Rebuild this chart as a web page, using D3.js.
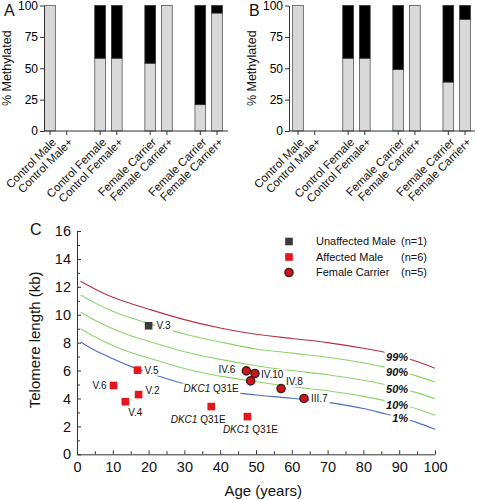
<!DOCTYPE html>
<html lang="en">
<head>
<meta charset="UTF-8">
<title>Methylation and telomere length</title>
<script src="https://d3js.org/d3.v7.min.js"></script>
<style>
    html, body { margin: 0; padding: 0; background: #fff; }
    svg { display: block; font-family: Arial, "Liberation Sans", sans-serif; }
</style>
</head>
<body>
<div id="chart"></div>
<script>
// panels A and B: "" marks the empty slot between groups
const categories = ["Control Male", "Control Male+", "", "Control Female", "Control Female+", "",
    "Female Carrier", "Female Carrier+", "", "Female Carrier", "Female Carrier+"];
const methylatedA = [100, 0, null, 58, 58, null, 54, 100, null, 21, 94];
const unmethylatedA = [0, 0, null, 42, 42, null, 46, 0, null, 79, 6];
const methylatedB = [100, 0, null, 58, 58, null, 49, 100, null, 39, 89];
const unmethylatedB = [0, 0, null, 42, 42, null, 51, 0, null, 61, 11];
const methylTicks = [0, 25, 50, 75, 100];

// panel C percentile curves (kb at each age)
const curveAges = [1, 5, 10, 15, 20, 30, 40, 50, 60, 70, 80, 85, 90, 95, 100];
const p99 = [12.4, 11.85, 11.25, 10.8, 10.4, 9.65, 9.05, 8.6, 8.3, 8.0, 7.6, 7.37, 7.05, 6.65, 6.17];
const p90 = [11.42, 10.85, 10.25, 9.78, 9.38, 8.62, 8.05, 7.55, 7.25, 6.95, 6.55, 6.3, 5.98, 5.6, 5.17];
const p50 = [10.18, 9.6, 9.0, 8.5, 8.1, 7.35, 6.8, 6.35, 6.0, 5.7, 5.3, 5.05, 4.75, 4.4, 3.98];
const p10 = [9.0, 8.42, 7.8, 7.3, 6.9, 6.15, 5.6, 5.2, 4.85, 4.55, 4.15, 3.9, 3.6, 3.25, 2.8];
const p1 = [8.05, 7.45, 6.85, 6.3, 5.85, 5.05, 4.55, 4.25, 4.02, 3.72, 3.28, 2.97, 2.65, 2.27, 1.8];
const percentileNames = ["99%", "90%", "50%", "10%", "1%"];

const unaffectedMale = [{ age: 20.0, kb: 9.21, label: "V.3" }];
const affectedMale = [
    { age: 16.9, kb: 6.03, label: "V.5" },
    { age: 10.2, kb: 4.93, label: "V.6" },
    { age: 17.2, kb: 4.28, label: "V.2" },
    { age: 13.5, kb: 3.77, label: "V.4" },
    { age: 37.5, kb: 3.42, label: "DKC1 Q31E" },
    { age: 47.6, kb: 2.70, label: "DKC1 Q31E" }
];
const femaleCarrier = [
    { age: 47.3, kb: 5.98, label: "IV.6" },
    { age: 49.7, kb: 5.79, label: "IV.10" },
    { age: 48.5, kb: 5.26, label: "DKC1 Q31E" },
    { age: 57.0, kb: 4.71, label: "IV.8" },
    { age: 63.4, kb: 4.0, label: "III.7" }
];
const legendNames = ["Unaffected Male", "Affected Male", "Female Carrier"];
const legendCounts = ["(n=1)", "(n=6)", "(n=5)"];

const svg = d3.select('#chart')
    .append('svg')
    .attr('width', 477)
    .attr('height', 500);

const axisColor = '#333';

function methylPanel(letter, axisX, firstX, axisEnd, methyl, unmethyl) {
    const y = d3.scaleLinear().domain([0, 100]).range([131, 5.5]);
    const x = d3.scaleLinear().domain([0, categories.length - 1]).range([firstX, firstX + 167]);
    const barW = 10.7;
    const g = svg.append('g');

    const rows = categories.map((c, i) => ({ name: c, i: i, m: methyl[i], u: unmethyl[i] }))
        .filter(d => d.name !== '');

    // methylated (grey) part
    g.selectAll('rect.meth')
        .data(rows.filter(d => d.m > 0))
        .join('rect')
        .attr('class', 'meth')
        .attr('x', d => x(d.i) - barW / 2)
        .attr('y', d => y(d.m))
        .attr('width', barW)
        .attr('height', d => y(0) - y(d.m))
        .attr('fill', '#d9d9d9')
        .attr('stroke', '#555')
        .attr('stroke-width', 0.8);

    // unmethylated (black) part on top
    g.selectAll('rect.unmeth')
        .data(rows.filter(d => d.u > 0))
        .join('rect')
        .attr('class', 'unmeth')
        .attr('x', d => x(d.i) - barW / 2)
        .attr('y', d => y(d.m + d.u))
        .attr('width', barW)
        .attr('height', d => y(d.m) - y(d.m + d.u))
        .attr('fill', '#000')
        .attr('stroke', '#333')
        .attr('stroke-width', 0.8);

    const yAxis = g.append('g')
        .attr('transform', `translate(${axisX},0)`)
        .call(d3.axisLeft(y).tickValues(methylTicks).tickSize(4).tickSizeOuter(0).tickPadding(2));
    yAxis.attr('font-size', 12).attr('font-family', null);
    yAxis.selectAll('path, line').attr('stroke', axisColor);

    // x axis line spans past the last bar
    g.append('line')
        .attr('x1', axisX).attr('x2', axisEnd)
        .attr('y1', y(0)).attr('y2', y(0))
        .attr('stroke', axisColor);

    g.selectAll('line.xtick')
        .data(rows)
        .join('line')
        .attr('class', 'xtick')
        .attr('x1', d => x(d.i)).attr('x2', d => x(d.i))
        .attr('y1', y(0)).attr('y2', y(0) + 4)
        .attr('stroke', axisColor);

    g.selectAll('text.cat')
        .data(rows)
        .join('text')
        .attr('class', 'cat')
        .attr('transform', d => `translate(${x(d.i) + 4},${y(0) + 9}) rotate(-45)`)
        .attr('text-anchor', 'end')
        .attr('dy', '0.35em')
        .attr('font-size', 11.5)
        .attr('fill', '#111')
        .text(d => d.name);

    g.append('text')
        .attr('transform', `translate(${axisX - 33},${y(50)}) rotate(-90)`)
        .attr('text-anchor', 'middle')
        .attr('font-size', 12.5)
        .attr('fill', '#111')
        .text('% Methylated');

    g.append('text')
        .attr('x', axisX - 40)
        .attr('y', 16)
        .attr('font-size', 16)
        .attr('fill', '#111')
        .text(letter);
}

methylPanel('A', 44, 50, 228, methylatedA, unmethylatedA);
methylPanel('B', 289, 298, 475, methylatedB, unmethylatedB);

// ---- panel C ----
const xC = d3.scaleLinear().domain([0, 100]).range([77, 435]);
const yC = d3.scaleLinear().domain([0, 16]).range([454.3, 231]);
const gC = svg.append('g');

const xAxis = gC.append('g')
    .attr('transform', `translate(0,${yC(0)})`)
    .call(d3.axisBottom(xC).tickValues(d3.range(0, 101, 10)).tickSize(-4).tickSizeOuter(0).tickPadding(7));
xAxis.attr('font-size', 14.5).attr('font-family', null);
xAxis.selectAll('text').attr('dy', '0.71em').attr('fill', '#111');
gC.append('g')
    .attr('transform', `translate(0,${yC(0)})`)
    .call(d3.axisBottom(xC).tickValues(d3.range(5, 100, 10)).tickSize(-3).tickFormat(''))
    .select('.domain').remove();

const yAxis = gC.append('g')
    .attr('transform', `translate(${xC(0)},0)`)
    .call(d3.axisLeft(yC).tickValues(d3.range(0, 17, 2)).tickSize(-4).tickSizeOuter(0).tickPadding(6));
yAxis.attr('font-size', 14.5).attr('font-family', null);
yAxis.selectAll('text').attr('fill', '#111');
gC.append('g')
    .attr('transform', `translate(${xC(0)},0)`)
    .call(d3.axisLeft(yC).tickValues(d3.range(1, 16, 2)).tickSize(-3).tickFormat(''))
    .select('.domain').remove();
gC.selectAll('.domain, .tick line').attr('stroke', axisColor);

gC.append('text')
    .attr('transform', `translate(40,${yC(8.2)}) rotate(-90)`)
    .attr('text-anchor', 'middle')
    .attr('font-size', 15)
    .attr('fill', '#111')
    .text('Telomere length (kb)');

gC.append('text')
    .attr('x', xC(52))
    .attr('y', 496)
    .attr('text-anchor', 'middle')
    .attr('font-size', 15)
    .attr('fill', '#111')
    .text('Age (years)');

gC.append('text')
    .attr('x', 30)
    .attr('y', 235)
    .attr('font-size', 16)
    .attr('fill', '#111')
    .text('C');

// percentile curves
const curves = [p99, p90, p50, p10, p1];
const curveColors = ['#b83244', '#8ed36b', '#8ed36b', '#8ed36b', '#4c6fbf'];
const line = d3.line()
    .x(d => xC(d[0]))
    .y(d => yC(d[1]))
    .curve(d3.curveMonotoneX);

gC.selectAll('path.pct')
    .data(curves)
    .join('path')
    .attr('class', 'pct')
    .attr('d', c => line(curveAges.map((a, i) => [a, c[i]])))
    .attr('fill', 'none')
    .attr('stroke', (c, i) => curveColors[i])
    .attr('stroke-width', 1.1);

// text with a white box behind it, so the curves break around it
function boxedLabel(x, y, text, anchor, size, extra) {
    const lg = gC.append('g');
    const bg = lg.append('rect').attr('fill', '#fff');
    const t = lg.append('text')
        .attr('x', x)
        .attr('y', y)
        .attr('dy', '0.35em')
        .attr('text-anchor', anchor)
        .attr('font-size', size)
        .attr('fill', '#111');
    if (text.startsWith('DKC1')) {
        t.append('tspan').attr('font-style', 'italic').text('DKC1');
        t.append('tspan').text(text.slice(4));
    } else {
        t.text(text);
    }
    if (extra) extra(t);
    const b = t.node().getBBox();
    bg.attr('x', b.x - 1.5).attr('y', b.y).attr('width', b.width + 3).attr('height', b.height);
}

percentileNames.forEach((name, i) => {
    const at90 = curves[i][curveAges.indexOf(90)];
    boxedLabel(xC(92.5), yC(at90) + 1, name, 'end', 11,
        t => t.attr('font-weight', 'bold').attr('font-style', 'italic'));
});

// label placement next to each marker: [dx, dy, anchor]
const unaffectedPos = [[8, 0, 'start']];
const affectedPos = [[7, 0, 'start'], [-7, 0, 'end'], [7, -4, 'start'], [3, 11, 'start'],
    [-13, 13, 'middle'], [3, 13, 'middle']];
const carrierPos = [[-11, -1, 'end'], [6, 1, 'start'], [-12, 8, 'end'], [5, -7, 'start'], [7, 0, 'start']];

[[unaffectedMale, unaffectedPos], [affectedMale, affectedPos], [femaleCarrier, carrierPos]]
    .forEach(([pts, pos]) => {
        pts.forEach((d, i) => {
            const p = pos[i];
            boxedLabel(xC(d.age) + p[0], yC(d.kb) + p[1], d.label, p[2], 10);
        });
    });

const sq = 7.6;
gC.selectAll('rect.unaffected')
    .data(unaffectedMale)
    .join('rect')
    .attr('class', 'unaffected')
    .attr('x', d => xC(d.age) - sq / 2)
    .attr('y', d => yC(d.kb) - sq / 2)
    .attr('width', sq).attr('height', sq)
    .attr('fill', '#3b3b3b');

gC.selectAll('rect.affected')
    .data(affectedMale)
    .join('rect')
    .attr('class', 'affected')
    .attr('x', d => xC(d.age) - sq / 2)
    .attr('y', d => yC(d.kb) - sq / 2)
    .attr('width', sq).attr('height', sq)
    .attr('fill', '#e3161c');

gC.selectAll('circle.carrier')
    .data(femaleCarrier)
    .join('circle')
    .attr('class', 'carrier')
    .attr('cx', d => xC(d.age))
    .attr('cy', d => yC(d.kb))
    .attr('r', 4)
    .attr('fill', '#d0161c')
    .attr('stroke', '#4a1f1f')
    .attr('stroke-width', 1.6);

// legend
const legend = gC.append('g');
const legendY = [241.5, 257, 272.5];
legendNames.forEach((name, i) => {
    if (i < 2) {
        legend.append('rect')
            .attr('x', 289 - sq / 2).attr('y', legendY[i] - sq / 2)
            .attr('width', sq).attr('height', sq)
            .attr('fill', i === 0 ? '#3b3b3b' : '#e3161c');
    } else {
        legend.append('circle')
            .attr('cx', 289).attr('cy', legendY[i]).attr('r', 4)
            .attr('fill', '#d0161c').attr('stroke', '#4a1f1f').attr('stroke-width', 1.6);
    }
    legend.append('text')
        .attr('x', 316).attr('y', legendY[i]).attr('dy', '0.35em')
        .attr('font-size', 11).attr('fill', '#111')
        .text(name);
    legend.append('text')
        .attr('x', 401).attr('y', legendY[i]).attr('dy', '0.35em')
        .attr('font-size', 11).attr('fill', '#111')
        .text(legendCounts[i]);
});
</script>
</body>
</html>
